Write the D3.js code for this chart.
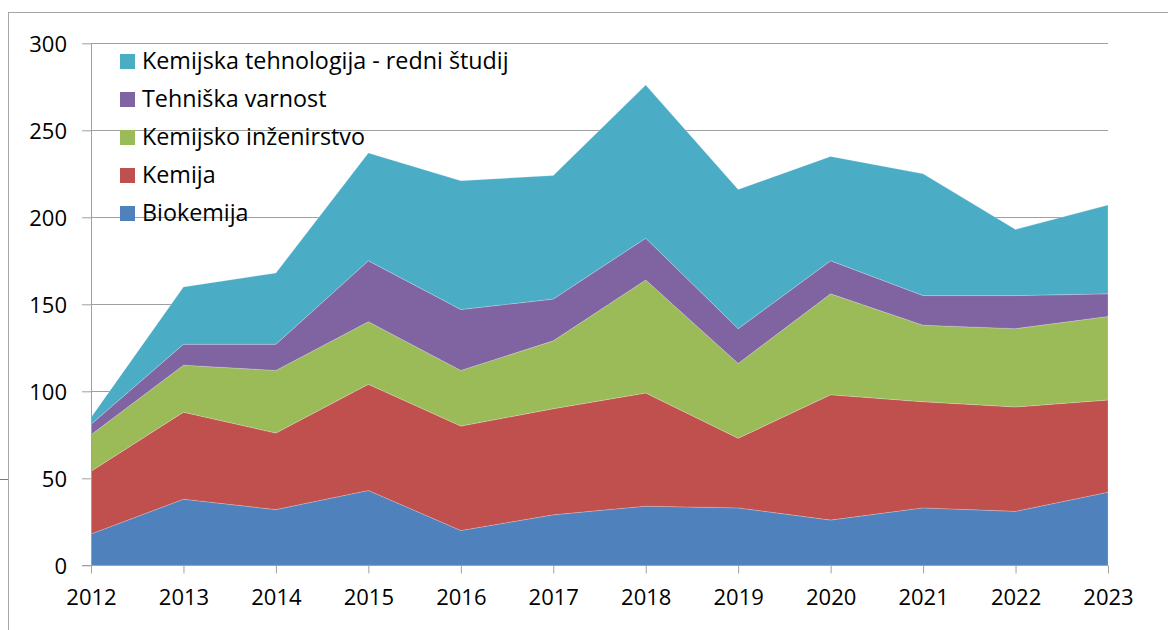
<!DOCTYPE html>
<html>
<head>
<meta charset="utf-8">
<script src="https://cdn.jsdelivr.net/npm/d3@7"></script>
<style>
  html, body { margin: 0; padding: 0; background: #fff; }
  svg { display: block; }
  text { font-family: "Open Sans", "Noto Sans", sans-serif; fill: #000; }
</style>
</head>
<body>
<svg id="chart" width="1168" height="630"></svg>
<script>
const years = [2012, 2013, 2014, 2015, 2016, 2017, 2018, 2019, 2020, 2021, 2022, 2023];
const seriesNames = ["Biokemija", "Kemija", "Kemijsko inženirstvo", "Tehniška varnost", "Kemijska tehnologija - redni študij"];
const biokemija = [18, 38, 32, 43, 20, 29, 34, 33, 26, 33, 31, 42];
const kemija = [36, 50, 44, 61, 60, 61, 65, 40, 72, 61, 60, 53];
const kemijskoInzenirstvo = [21, 27, 36, 36, 32, 39, 65, 43, 58, 44, 45, 48];
const tehniskaVarnost = [6, 12, 15, 35, 35, 24, 24, 20, 19, 17, 19, 13];
const kemijskaTehnologija = [4, 33, 41, 62, 74, 71, 88, 80, 60, 70, 38, 51];
const yTicks = [0, 50, 100, 150, 200, 250, 300];
const colors = ["#4F81BD", "#C0504D", "#9BBB59", "#8064A2", "#4BACC6"];

const seriesValues = [biokemija, kemija, kemijskoInzenirstvo, tehniskaVarnost, kemijskaTehnologija];
const table = years.map((yr, i) => {
  const row = { year: yr };
  seriesNames.forEach((n, k) => row[n] = seriesValues[k][i]);
  return row;
});

const svg = d3.select("#chart");
const mLeft = 91, mRight = 1108, mTop = 43.3, mBottom = 565.3;

// outer frame
svg.append("rect").attr("x", 8.5).attr("y", 12.5).attr("width", 1200).attr("height", 700)
  .attr("fill", "none").attr("stroke", "#a6a6a6").attr("stroke-width", 1);
svg.append("line").attr("x1", 0).attr("x2", 8).attr("y1", 479.5).attr("y2", 479.5)
  .attr("stroke", "#e05050").attr("stroke-width", 1);

const x = d3.scaleLinear().domain([years[0], years[years.length - 1]]).range([mLeft, mRight]);
const y = d3.scaleLinear().domain([0, 300]).range([mBottom, mTop]);

// y axis ticks + labels
const yAxis = d3.axisLeft(y).tickValues(yTicks).tickSize(9).tickPadding(15).tickFormat(d3.format("d"));
const gy = svg.append("g").attr("transform", `translate(${mLeft},0)`).call(yAxis);
gy.select(".domain").remove();
gy.selectAll(".tick line").attr("stroke", "#a0a0a0");
gy.selectAll(".tick text").attr("font-size", 22).attr("dy", "0.35em");
// gridlines across
svg.append("g").selectAll("line").data(yTicks.filter(d => d > 0)).join("line")
  .attr("x1", mLeft).attr("x2", mRight)
  .attr("y1", d => Math.round(y(d)) + 0.5).attr("y2", d => Math.round(y(d)) + 0.5)
  .attr("stroke", "#a0a0a0").attr("stroke-width", 1);

// stacked areas
const stack = d3.stack().keys(seriesNames);
const layers = stack(table);
const area = d3.area()
  .x(d => x(d.data.year))
  .y0(d => y(d[0]))
  .y1(d => y(d[1]));
svg.append("g").selectAll("path").data(layers).join("path")
  .attr("d", area)
  .attr("fill", (d, i) => colors[i])
  .attr("stroke", "#ffffff").attr("stroke-width", 0.4).attr("stroke-opacity", 0.5);

// y axis line
svg.append("line").attr("x1", mLeft + 0.5).attr("x2", mLeft + 0.5).attr("y1", mTop).attr("y2", mBottom)
  .attr("stroke", "#a0a0a0");

// x axis
const xAxis = d3.axisBottom(x).tickValues(years).tickSize(8).tickPadding(16).tickFormat(d3.format("d"));
const gx = svg.append("g").attr("transform", `translate(0,${Math.round(mBottom) + 0.5})`).call(xAxis);
gx.select(".domain").attr("stroke", "#a0a0a0").attr("d", `M${mLeft - 9},0H${mRight}`);
gx.selectAll(".tick line").attr("stroke", "#a0a0a0");
gx.selectAll(".tick text").attr("font-size", 22);

// legend (reverse order)
const legendItems = seriesNames.map((n, i) => ({ name: n, color: colors[i] })).reverse();
const lg = svg.append("g");
const li = lg.selectAll("g").data(legendItems).join("g")
  .attr("transform", (d, i) => `translate(120,${61 + i * 38})`);
li.append("rect").attr("x", 0).attr("y", -7).attr("width", 15).attr("height", 15).attr("fill", d => d.color);
li.append("text").attr("x", 22).attr("y", 0).attr("dy", "0.35em").attr("font-size", 23.3).text(d => d.name);
</script>
</body>
</html>
